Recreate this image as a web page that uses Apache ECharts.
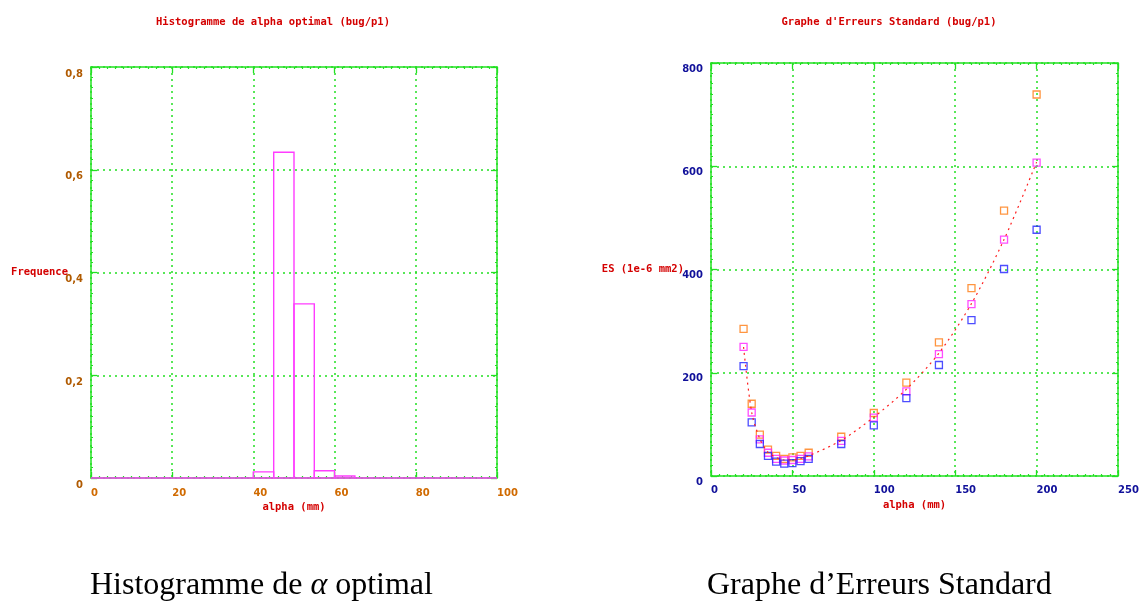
<!DOCTYPE html>
<html>
<head>
<meta charset="utf-8">
<script src="https://cdn.jsdelivr.net/npm/echarts@6/dist/echarts.min.js"></script>
<style>
html,body{margin:0;padding:0;background:#fff;}
#chart{width:1142px;height:612px;}
</style>
</head>
<body>
<div id="chart"></div>
<script>
// ---------- data: histogram ----------
const histBinStart = [0,5,10,15,20,25,30,35,40,45,50,55,60,65,70,75,80,85,90,95];
const histBinEnd   = [5,10,15,20,25,30,35,40,45,50,55,60,65,70,75,80,85,90,95,100];
const histFreq     = [0,0,0,0,0,0,0,0,0.012,0.634,0.339,0.014,0.004,0,0,0,0,0,0,0];
const histYTicks   = [0, 0.2, 0.4, 0.6, 0.8];
const histYLabels  = ['0', '0,2', '0,4', '0,6', '0,8'];

// ---------- data: standard errors ----------
const esAlpha   = [20,25,30,35,40,45,50,55,60,80,100,120,140,160,180,200];
const esOrange  = [285,140,80,51,39,33,36,39,45,76,122,181,259,364,514,739];
const esMagenta = [250,123,71,45,33,30,31,33,38,68,113,164,236,333,458,607];
const esBlue    = [213,104,62,39,28,24,25,29,33,62,98,151,215,302,401,477];
const fitES     = [250,123,72,46,36,31,31,34,39,69,114,168,238,334,458,608];

// ---------- text ----------
const titleLeft  = 'Histogramme de alpha optimal (bug/p1)';
const titleRight = "Graphe d'Erreurs Standard (bug/p1)";
const xNameBoth  = 'alpha (mm)';
const yNameLeft  = 'Frequence';
const yNameRight = 'ES (1e-6 mm2)';

const GREEN = '#22e022';
const RED = '#d40000';
const MONO = '"DejaVu Sans Mono", monospace';
const SANS = '"DejaVu Sans", sans-serif';

function frameAxis(extra) {
  return Object.assign({
    axisLine: {show: true, onZero: false, lineStyle: {color: GREEN, width: 1.5}},
    axisTick: {show: true, inside: true, length: 6, lineStyle: {color: GREEN, width: 1.3}},
    minorTick: {show: true, splitNumber: 10, length: 2, lineStyle: {color: GREEN, width: 1.2}},
    splitLine: {show: false},
    axisLabel: {show: false}
  }, extra);
}
const gridLine = {show: true, lineStyle: {color: GREEN, type: [2, 4], width: 1.5}};

const chart = echarts.init(document.getElementById('chart'), null, {renderer: 'canvas'});

const histData = histBinStart.map((s, i) => [s, histBinEnd[i], histFreq[i]]);
const pairs = arr => esAlpha.map((a, i) => [a, arr[i]]);

const option = {
  backgroundColor: '#ffffff',
  animation: false,
  title: [
    {text: titleLeft, left: 268, top: 12, textAlign: 'center',
     textStyle: {fontFamily: MONO, fontSize: 10.5, fontWeight: 'bold', color: RED}},
    {text: titleRight, left: 884, top: 12, textAlign: 'center',
     textStyle: {fontFamily: MONO, fontSize: 10.5, fontWeight: 'bold', color: RED}}
  ],
  grid: [
    {left: 91, top: 67, width: 406, height: 411},
    {left: 711, top: 63, width: 407, height: 413}
  ],
  xAxis: [
    frameAxis({gridIndex: 0, type: 'value', min: 0, max: 100, interval: 20, position: 'bottom',
      name: xNameBoth, nameLocation: 'middle', nameGap: 24, nameMoveOverlap: false,
      nameTextStyle: {fontFamily: MONO, fontSize: 10.5, fontWeight: 'bold', color: RED},
      splitLine: gridLine,
      axisLabel: {show: true, align: 'left', margin: 10, color: '#d06a00',
        fontFamily: SANS, fontSize: 10, fontWeight: 'bold'}}),
    frameAxis({gridIndex: 0, type: 'value', min: 0, max: 100, interval: 20, position: 'top'}),
    frameAxis({gridIndex: 1, type: 'value', min: 0, max: 250, interval: 50, position: 'bottom',
      name: xNameBoth, nameLocation: 'middle', nameGap: 24, nameMoveOverlap: false,
      nameTextStyle: {fontFamily: MONO, fontSize: 10.5, fontWeight: 'bold', color: RED},
      splitLine: gridLine,
      axisLabel: {show: true, align: 'left', margin: 9, color: '#10109a',
        fontFamily: SANS, fontSize: 10, fontWeight: 'bold'}}),
    frameAxis({gridIndex: 1, type: 'value', min: 0, max: 250, interval: 50, position: 'top'})
  ],
  yAxis: [
    frameAxis({gridIndex: 0, type: 'value', min: 0, max: 0.8, interval: 0.2, position: 'left',
      name: yNameLeft, nameLocation: 'middle', nameGap: 23, nameRotate: 0, nameMoveOverlap: false,
      nameTextStyle: {fontFamily: MONO, fontSize: 10.5, fontWeight: 'bold', color: RED, align: 'right', verticalAlign: 'middle'},
      splitLine: gridLine,
      axisLabel: {show: true, margin: 8, color: '#b05a00', verticalAlign: 'top', padding: [2, 0, 0, 0],
        fontFamily: SANS, fontSize: 10, fontWeight: 'bold',
        formatter: v => {
          const i = histYTicks.findIndex(t => Math.abs(t - v) < 1e-9);
          return i >= 0 ? histYLabels[i] : '';
        }}}),
    frameAxis({gridIndex: 0, type: 'value', min: 0, max: 0.8, interval: 0.2, position: 'right'}),
    frameAxis({gridIndex: 1, type: 'value', min: 0, max: 800, interval: 200, position: 'left',
      name: yNameRight, nameLocation: 'middle', nameGap: 27, nameRotate: 0, nameMoveOverlap: false,
      nameTextStyle: {fontFamily: MONO, fontSize: 10.5, fontWeight: 'bold', color: RED, align: 'right', verticalAlign: 'middle'},
      splitLine: gridLine,
      axisLabel: {show: true, margin: 8, color: '#10109a', verticalAlign: 'top', padding: [1, 0, 0, 0],
        fontFamily: SANS, fontSize: 10, fontWeight: 'bold'}}),
    frameAxis({gridIndex: 1, type: 'value', min: 0, max: 800, interval: 200, position: 'right'})
  ],
  series: [
    {
      type: 'custom', xAxisIndex: 0, yAxisIndex: 0, data: histData,
      encode: {x: [0, 1], y: 2},
      renderItem: function (params, api) {
        const p0 = api.coord([api.value(0), api.value(2)]);
        const p1 = api.coord([api.value(1), 0]);
        return {
          type: 'rect',
          shape: {x: p0[0], y: p0[1], width: p1[0] - p0[0], height: p1[1] - p0[1]},
          style: {fill: 'none', stroke: '#ff3cff', lineWidth: 1.4}
        };
      },
      z: 5
    },
    {type: 'scatter', xAxisIndex: 2, yAxisIndex: 2, data: pairs(esOrange), symbol: 'rect', symbolSize: 7,
     itemStyle: {color: 'rgba(0,0,0,0)', borderColor: '#ff7a10', borderWidth: 1.3}, z: 3},
    {type: 'scatter', xAxisIndex: 2, yAxisIndex: 2, data: pairs(esMagenta), symbol: 'rect', symbolSize: 7,
     itemStyle: {color: 'rgba(0,0,0,0)', borderColor: '#ff20ff', borderWidth: 1.3}, z: 3},
    {type: 'scatter', xAxisIndex: 2, yAxisIndex: 2, data: pairs(esBlue), symbol: 'rect', symbolSize: 7,
     itemStyle: {color: 'rgba(0,0,0,0)', borderColor: '#2020ff', borderWidth: 1.3}, z: 3},
    {type: 'line', xAxisIndex: 2, yAxisIndex: 2, data: pairs(fitES), smooth: 0.3, showSymbol: false,
     lineStyle: {color: '#ff2020', width: 1.2, type: [2, 4]}, z: 4}
  ],
  graphic: [
    {type: 'text', left: 90, top: 570,
     style: {
       text: '{a|Histogramme de }{b|α}{a| optimal}',
       rich: {
         a: {fontFamily: '"Liberation Serif", serif', fontSize: 32, fill: '#000'},
         b: {fontFamily: '"Liberation Serif", serif', fontSize: 32, fontStyle: 'italic', fill: '#000'}
       }
     }},
    {type: 'text', left: 707, top: 570,
     style: {text: 'Graphe d’Erreurs Standard', font: '32px "Liberation Serif", serif', fill: '#000'}}
  ]
};
chart.setOption(option);
</script>
</body>
</html>
